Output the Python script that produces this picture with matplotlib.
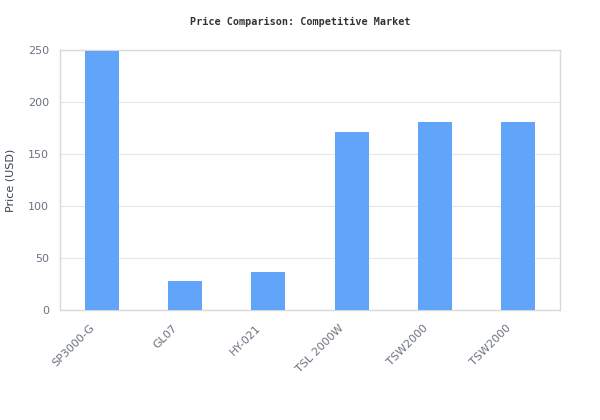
import matplotlib
matplotlib.use("Agg")
import matplotlib.pyplot as plt
import matplotlib.transforms as mtransforms
import numpy as np

products = ["SP3000-G", "GL07", "HY-021", "TSL 2000W", "TSW2000", "TSW2000"]
prices = [249, 28, 36.5, 171, 181, 181]
y_ticks = [0, 50, 100, 150, 200, 250]

bar_color = "#60a5fa"
grid_color = "#e5e7eb"
spine_color = "#d9d9d9"
tick_color = "#6b7280"

fig = plt.figure(figsize=(6, 4.2), dpi=100)
ax = fig.add_axes([0.1, 0.2619, 0.8333, 0.6191])

x = np.arange(len(products))
ax.bar(x, prices, width=0.41, color=bar_color, zorder=3)

ax.set_xlim(-0.5, len(products) - 0.5)
ax.set_ylim(0, 250)
ax.set_yticks(y_ticks)
ax.set_xticks(x)
ax.set_xticklabels(products, rotation=45, ha="right", rotation_mode="anchor")
ax.tick_params(axis="both", length=0, labelsize=8, colors=tick_color)
ax.tick_params(axis="x", pad=9)
ax.tick_params(axis="y", pad=8)

# nudge rotated labels left, like the reference
shift = mtransforms.ScaledTranslation(-9 / 72, 0, fig.dpi_scale_trans)
for lbl in ax.get_xticklabels():
    lbl.set_transform(lbl.get_transform() + shift)

ax.grid(axis="y", color=grid_color, linewidth=0.8, zorder=0)
for s in ax.spines.values():
    s.set_color(spine_color)
    s.set_linewidth(1)

ax.set_ylabel("Price (USD)", fontsize=8, color="#374151", labelpad=9)
fig.suptitle("Price Comparison: Competitive Market", y=0.96,
             fontsize=7.3, fontweight="bold", family="DejaVu Sans Mono", color="#333333")

fig.savefig("out.png", dpi=100)
